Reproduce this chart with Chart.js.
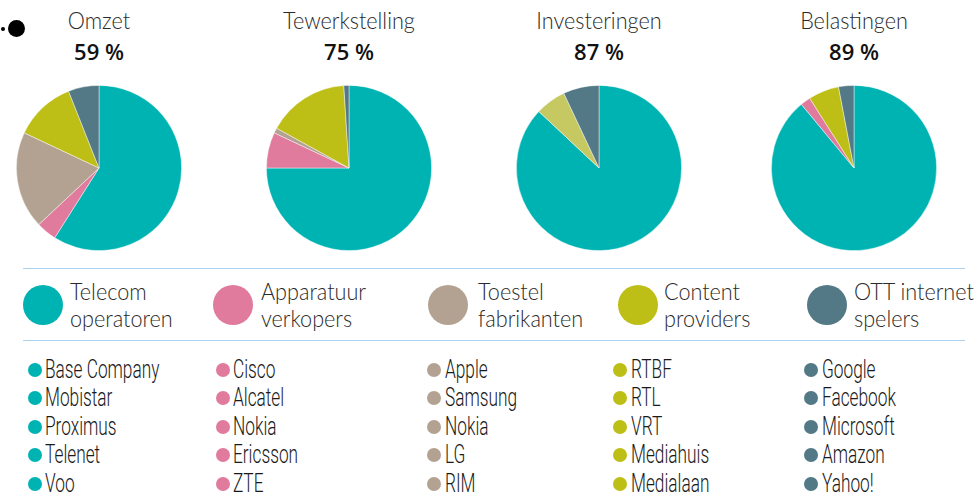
<!DOCTYPE html>
<html>
<head>
<meta charset="utf-8">
<script src="https://cdn.jsdelivr.net/npm/chart.js@4"></script>
<style>
  body { margin: 0; width: 976px; height: 495px; background: #fff; position: relative; overflow: hidden; }
  .title { position: absolute; width: 200px; text-align: center; font-family: Lato, "Open Sans", sans-serif; font-weight: 300; font-size: 23px; color: #2a2a2a; transform: scaleX(0.94); }
  .pct { position: absolute; width: 200px; text-align: center; font-family: "Open Sans", Lato, sans-serif; font-weight: 600; font-size: 22px; color: #111; }
  canvas.pie { position: absolute; }
  .rule { position: absolute; left: 23px; width: 942px; height: 0; border-top: 1.5px solid #a9d3f0; }
  .leg-dot { position: absolute; width: 40px; height: 40px; border-radius: 50%; }
  .leg-text { position: absolute; font-family: Lato, "Open Sans", sans-serif; font-weight: 300; font-size: 23px; line-height: 27px; color: #2a2a2a; white-space: nowrap; transform: scaleX(0.94); transform-origin: left center; }
  .item { position: absolute; font-family: Roboto, "DejaVu Sans Condensed", sans-serif; font-weight: 300; font-size: 25px; color: #1a1a1a; line-height: 26px; white-space: nowrap; transform: scaleX(0.69); transform-origin: left center; }
  .item-dot { position: absolute; width: 14px; height: 14px; border-radius: 50%; }
</style>
</head>
<body>
<script>
const categories = ['Telecom operatoren', 'Apparatuur verkopers', 'Toestel fabrikanten', 'Content providers', 'OTT internet spelers'];
const legendLines = [['Telecom', 'operatoren'], ['Apparatuur', 'verkopers'], ['Toestel', 'fabrikanten'], ['Content', 'providers'], ['OTT internet', 'spelers']];
const colors = ['#00b3b3', '#e07b9d', '#b3a292', '#bdbf16', '#527985'];

const pieTitles = ['Omzet', 'Tewerkstelling', 'Investeringen', 'Belastingen'];
const telecomShare = ['59 %', '75 %', '87 %', '89 %'];
const omzet = [59, 4, 19, 12, 6];
const tewerkstelling = [75, 7, 1, 16, 1];
const investeringen = [87, 0, 0, 6, 7];
const belastingen = [89, 2, 0, 6, 3];
const pieValues = [omzet, tewerkstelling, investeringen, belastingen];

const telecomCompanies = ['Base Company', 'Mobistar', 'Proximus', 'Telenet', 'Voo'];
const apparatuurCompanies = ['Cisco', 'Alcatel', 'Nokia', 'Ericsson', 'ZTE'];
const toestelCompanies = ['Apple', 'Samsung', 'Nokia', 'LG', 'RIM'];
const contentCompanies = ['RTBF', 'RTL', 'VRT', 'Mediahuis', 'Medialaan'];
const ottCompanies = ['Google', 'Facebook', 'Microsoft', 'Amazon', 'Yahoo!'];
const companyLists = [telecomCompanies, apparatuurCompanies, toestelCompanies, contentCompanies, ottCompanies];

// layout
const pieCenters = [99, 349, 599, 854];
const pieCy = 168;
const pieR = 83;
const legendDotX = [43, 233, 448, 638, 827];
const legendTextX = [70, 261, 478, 664, 854];
const listDotX = [35, 223, 434, 620, 811];
const listTextX = [45, 233, 445, 631, 822];
const listRowY = [370, 398, 427, 455, 484];

function addEl(cls, css, text) {
    const el = document.createElement('div');
    el.className = cls;
    Object.assign(el.style, css);
    if (text !== undefined) el.textContent = text;
    document.body.appendChild(el);
    return el;
}

// top-left marker
addEl('', { position: 'absolute', left: '1px', top: '27px', width: '4px', height: '4px', borderRadius: '50%', background: '#000' });
addEl('', { position: 'absolute', left: '8px', top: '20px', width: '17px', height: '17px', borderRadius: '50%', background: '#000' });

pieTitles.forEach((t, i) => {
    const cx = pieCenters[i];
    addEl('title', { left: (cx - 100) + 'px', top: '6px' }, t);
    addEl('pct', { left: (cx - 100) + 'px', top: '36px' }, telecomShare[i]);

    const canvas = document.createElement('canvas');
    canvas.className = 'pie';
    const size = pieR * 2 + 4;
    canvas.width = size;
    canvas.height = size;
    canvas.style.left = (cx - size / 2) + 'px';
    canvas.style.top = (pieCy - size / 2) + 'px';
    document.body.appendChild(canvas);

    const sliceColors = colors.slice();
    if (t === 'Investeringen') sliceColors[3] = '#c6c862';

    new Chart(canvas.getContext('2d'), {
        type: 'pie',
        data: {
            labels: categories,
            datasets: [{
                data: pieValues[i],
                backgroundColor: sliceColors,
                borderColor: 'rgba(255,255,255,0.55)',
                borderWidth: 0.8
            }]
        },
        options: {
            responsive: false,
            animation: false,
            layout: { padding: 2 },
            events: [],
            plugins: { legend: { display: false }, tooltip: { enabled: false } }
        }
    });
});

addEl('rule', { top: '268px' });
addEl('rule', { top: '340px' });

categories.forEach((c, i) => {
    addEl('leg-dot', { left: (legendDotX[i] - 20) + 'px', top: '285px', background: colors[i] });
    addEl('leg-text', { left: legendTextX[i] + 'px', top: '278px' }, legendLines[i][0]);
    addEl('leg-text', { left: legendTextX[i] + 'px', top: '305px' }, legendLines[i][1]);

    companyLists[i].forEach((name, r) => {
        addEl('item-dot', { left: (listDotX[i] - 7) + 'px', top: (listRowY[r] - 7) + 'px', background: colors[i] });
        addEl('item', { left: listTextX[i] + 'px', top: (listRowY[r] - 13) + 'px' }, name);
    });
});
</script>
</body>
</html>
